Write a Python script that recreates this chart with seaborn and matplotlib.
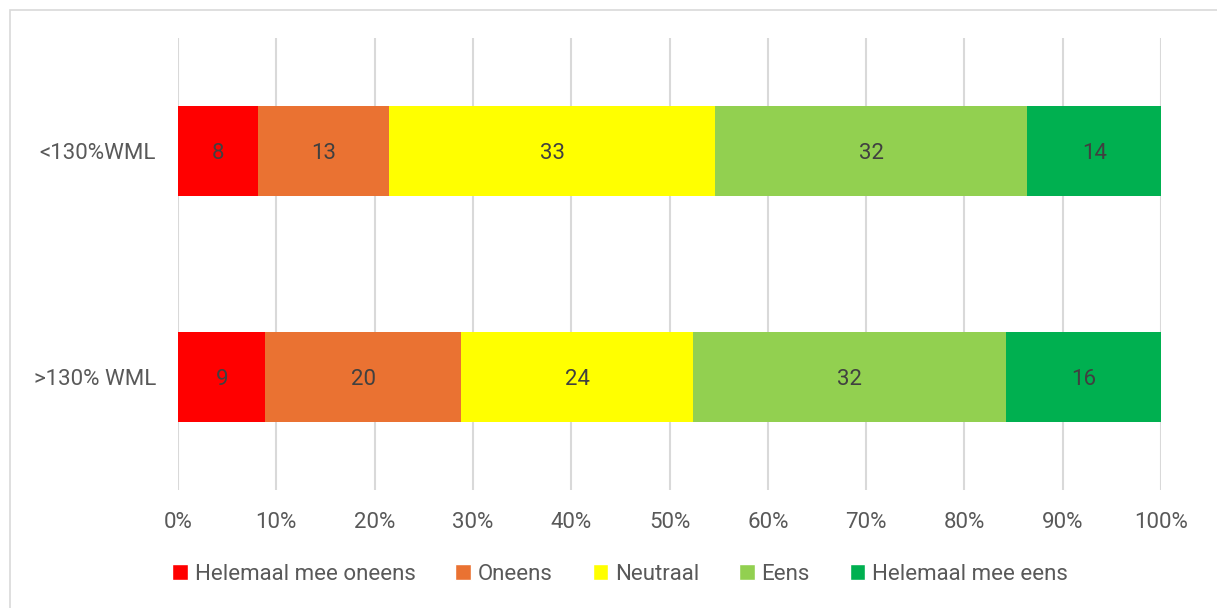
import numpy as np
import pandas as pd
import matplotlib
matplotlib.use("Agg")
import matplotlib.pyplot as plt
import seaborn as sns
from matplotlib.patches import Rectangle, Patch
from matplotlib.ticker import PercentFormatter

groups = ["<130%WML", ">130% WML"]
answers = ["Helemaal mee oneens", "Oneens", "Neutraal", "Eens", "Helemaal mee eens"]
colors = ["#FF0000", "#EA7232", "#FFFF00", "#92D050", "#00B050"]

# percentage per answer (labels are the rounded values)
share_low = [8.1, 13.4, 33.1, 31.8, 13.6]
share_high = [8.9, 19.9, 23.6, 31.8, 15.8]

df = pd.DataFrame([share_low, share_high], index=groups, columns=answers)
df = df.div(df.sum(axis=1), axis=0) * 100
cum = df.cumsum(axis=1)

sns.set_theme(style="white")
plt.rcParams["font.family"] = ["Roboto", "DejaVu Sans"]

fig = plt.figure(figsize=(12.17, 6.08), dpi=100)
ax = fig.add_axes([178 / 1217, 1 - 490 / 608, (1161 - 178) / 1217, (490 - 38) / 608])

# stacked bars: draw cumulative totals from the last answer to the first
for ans, c in reversed(list(zip(answers, colors))):
    sns.barplot(x=cum[ans].values, y=groups, color=c, orient="h",
                width=0.4, saturation=1, linewidth=0, ax=ax)

for i, g in enumerate(groups):
    for ans in answers:
        val = df.loc[g, ans]
        mid = cum.loc[g, ans] - val / 2
        ax.text(mid, i, f"{val:.0f}", ha="center", va="center_baseline",
                fontsize=16, color="#404040")

ax.set_xlim(0, 100)
ax.set_ylim(1.5, -0.5)
ax.set_xticks(np.arange(0, 101, 10))
ax.xaxis.set_major_formatter(PercentFormatter(decimals=0))
ax.grid(axis="x", color="#D9D9D9", linewidth=1.5)
ax.set_axisbelow(True)
for s in ax.spines.values():
    s.set_visible(False)
ax.tick_params(axis="x", length=0, pad=16, labelsize=16, labelcolor="#595959")
ax.tick_params(axis="y", length=0, pad=16, labelsize=16, labelcolor="#595959")
ax.set_xlabel("")
ax.set_ylabel("")

handles = [Patch(facecolor=c, label=a) for a, c in zip(answers, colors)]
fig.legend(handles=handles, loc="center", bbox_to_anchor=(620 / 1217, 1 - 574 / 608),
           ncol=5, frameon=False, fontsize=16, labelcolor="#595959",
           handlelength=0.7, handleheight=0.7, handletextpad=0.3, columnspacing=1.8)

fig.patches.append(Rectangle((10 / 1217, -0.1), 1.2, 1 - 10 / 608 + 0.1,
                             transform=fig.transFigure, fill=False,
                             edgecolor="#D9D9D9", linewidth=1.2))

fig.savefig("out.png", dpi=100)
